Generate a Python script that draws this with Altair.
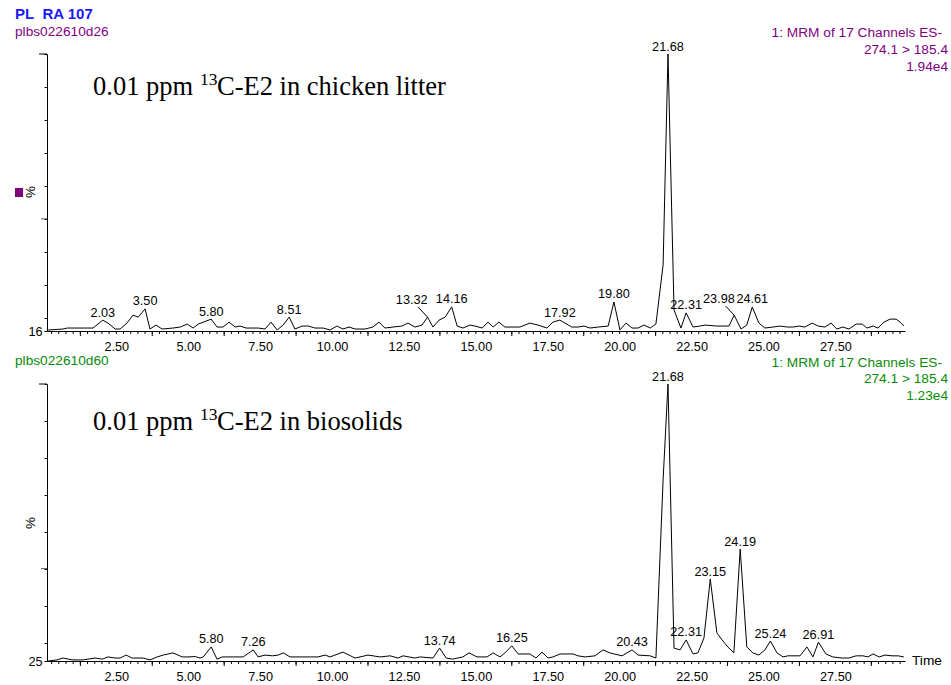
import altair as alt
import pandas as pd

SANS = "Liberation Sans"
SERIF = "Liberation Serif"
PURPLE = "#800080"
GREEN = "#0a8a0a"
BLUE = "#1a1aff"

# ---------------- data ----------------
top_time = [0.13, 0.65, 0.79, 1.35, 1.69, 2.03, 2.21, 2.46, 2.63, 2.87,
            3.08, 3.26, 3.50, 3.67, 3.88, 4.09, 4.47, 4.72, 4.96, 5.17,
            5.35, 5.80, 6.00, 6.21, 6.42, 6.63, 6.80, 7.01, 7.43, 7.67,
            7.88, 8.09, 8.30, 8.51, 8.71, 8.96, 9.17, 9.41, 9.69, 9.93,
            10.17, 10.38, 10.59, 10.80, 11.15, 11.42, 11.63, 11.84, 12.12, 12.43,
            12.64, 12.88, 13.13, 13.32, 13.51, 13.72, 13.93, 14.16, 14.35, 14.55,
            14.80, 14.97, 15.22, 15.42, 15.60, 15.80, 16.01, 16.29, 16.53, 16.88,
            17.16, 17.47, 17.68, 17.92, 18.10, 18.34, 18.55, 18.76, 18.97, 19.25,
            19.60, 19.80, 20.01, 20.22, 20.43, 20.64, 20.85, 21.06, 21.26, 21.51,
            21.68, 21.89, 22.13, 22.31, 22.55, 22.79, 22.97, 23.38, 23.80, 23.98,
            24.22, 24.42, 24.61, 24.84, 25.05, 25.33, 25.57, 25.82, 26.03, 26.24,
            26.44, 26.69, 26.90, 27.14, 27.35, 27.55, 27.76, 27.97, 28.22, 28.43,
            28.60, 28.81, 28.98, 29.19, 29.40, 29.61, 29.75, 29.88]
top_pct = [16.3, 16.6, 16.9, 16.9, 16.9, 19.3, 18.4, 16.6, 16.6, 18.4,
           20.8, 20.2, 22.7, 16.6, 17.8, 16.6, 16.9, 17.2, 18.1, 16.9,
           18.1, 19.6, 17.2, 17.2, 18.7, 17.2, 17.5, 16.9, 16.9, 16.6,
           18.7, 16.3, 17.8, 20.2, 16.6, 17.5, 17.5, 16.9, 16.9, 16.3,
           17.5, 16.6, 17.2, 16.6, 16.6, 17.2, 18.7, 16.9, 17.2, 17.5,
           18.4, 17.2, 17.8, 20.2, 17.2, 19.3, 20.2, 23.3, 17.5, 16.9,
           17.8, 17.5, 16.9, 18.7, 17.2, 18.7, 17.2, 17.2, 17.2, 18.4,
           17.8, 16.9, 18.7, 19.3, 18.4, 17.2, 17.2, 17.5, 16.9, 17.2,
           17.5, 24.8, 16.3, 18.4, 16.9, 16.9, 17.8, 16.9, 18.1, 36.0,
           100.0, 22.4, 16.9, 21.5, 17.2, 17.5, 17.8, 17.5, 17.5, 20.8,
           16.6, 17.8, 23.3, 18.4, 16.9, 17.2, 17.5, 17.2, 17.2, 17.5,
           17.2, 18.4, 17.5, 17.2, 18.4, 16.6, 17.2, 16.6, 18.1, 18.1,
           16.9, 17.5, 16.9, 18.7, 19.6, 19.6, 18.7, 17.5]

bot_time = [0.13, 0.44, 0.65, 0.96, 1.35, 1.76, 2.01, 2.21, 2.46, 2.63,
            2.84, 3.05, 3.43, 3.67, 3.92, 4.13, 4.47, 4.79, 4.99, 5.24,
            5.41, 5.52, 5.80, 6.00, 6.18, 6.56, 6.91, 7.26, 7.43, 7.67,
            7.92, 8.13, 8.30, 8.54, 8.89, 9.24, 9.51, 9.76, 9.93, 10.38,
            10.80, 11.25, 11.67, 12.02, 12.29, 12.47, 12.88, 13.06, 13.51, 13.74,
            13.97, 14.19, 14.55, 14.76, 15.04, 15.39, 15.60, 15.84, 16.01, 16.25,
            16.47, 16.88, 17.09, 17.30, 17.51, 17.68, 17.93, 18.38, 18.55, 18.80,
            19.14, 19.42, 19.66, 20.08, 20.43, 20.64, 21.06, 21.26, 21.51, 21.68,
            21.89, 22.10, 22.31, 22.55, 22.72, 22.93, 23.15, 23.38, 23.56, 23.76,
            23.97, 24.19, 24.42, 24.63, 24.84, 25.05, 25.24, 25.47, 25.68, 25.85,
            26.27, 26.51, 26.72, 26.91, 27.17, 27.41, 27.73, 27.97, 28.22, 28.46,
            28.63, 28.81, 29.02, 29.23, 29.47, 29.68, 29.88]
bot_pct = [25.0, 25.3, 25.8, 25.3, 25.3, 25.8, 25.5, 26.1, 25.8, 25.8,
           26.6, 25.8, 25.8, 25.3, 26.1, 26.6, 27.2, 26.1, 26.1, 26.2,
           25.8, 26.1, 28.8, 25.5, 26.1, 26.1, 26.1, 28.0, 26.1, 26.6,
           26.4, 26.6, 27.2, 26.1, 26.1, 26.1, 26.1, 26.6, 26.1, 27.4,
           25.8, 26.6, 26.1, 26.4, 25.8, 26.4, 25.8, 26.1, 25.8, 28.5,
           25.8, 25.5, 26.1, 27.2, 26.1, 26.1, 27.2, 26.1, 27.2, 29.1,
           26.9, 26.9, 25.8, 27.4, 25.8, 26.1, 26.9, 26.9, 26.4, 26.1,
           26.4, 28.0, 27.2, 26.4, 28.0, 26.6, 26.4, 25.8, 74.0, 100.0,
           28.5, 28.0, 30.7, 26.9, 27.2, 31.2, 47.2, 32.6, 30.7, 28.8,
           27.2, 55.3, 28.8, 27.2, 26.6, 28.0, 30.4, 27.2, 26.1, 26.4,
           26.4, 28.8, 26.1, 30.1, 26.9, 26.1, 25.8, 25.8, 26.4, 26.4,
           26.1, 26.9, 26.1, 26.6, 26.4, 26.4, 26.1]

top_label_text = ["2.03", "3.50", "5.80", "8.51", "13.32", "14.16", "17.92",
                  "19.80", "21.68", "22.31", "23.98", "24.61"]
top_label_time = [2.03, 3.50, 5.80, 8.51, 12.77, 14.16, 17.92, 19.80, 21.68, 22.31, 23.45, 24.61]
top_label_pct = [19.3, 22.7, 19.6, 20.2, 23.0, 23.3, 19.3, 24.8, 100.0, 21.5, 23.3, 23.3]

top_leader_t1 = [12.99, 23.68]
top_leader_p1 = [23.3, 23.6]
top_leader_t2 = [13.32, 23.98]
top_leader_p2 = [20.2, 20.8]

bot_label_text = ["5.80", "7.26", "13.74", "16.25", "20.43", "21.68", "22.31",
                  "23.15", "24.19", "25.24", "26.91"]
bot_label_time = [5.80, 7.26, 13.74, 16.25, 20.43, 21.68, 22.31, 23.15, 24.19, 25.24, 26.91]
bot_label_pct = [28.8, 28.0, 28.5, 29.1, 28.0, 100.0, 30.7, 47.2, 55.3, 30.4, 30.1]

x_label_values = [2.5, 5.0, 7.5, 10.0, 12.5, 15.0, 17.5, 20.0, 22.5, 25.0, 27.5]
x_minor_ticks = [round(0.25 * k, 2) for k in range(1, 120)]
x_long_ticks = [1.25 + 2.5 * k for k in range(12)]
X_MIN, X_MAX = 0.09, 29.92

W, H = 858, 277


def txt(s, x, y, size=13.7, color="black", font=SANS, align="left",
        baseline="alphabetic", weight="normal", angle=0):
    return alt.Chart(pd.DataFrame({"s": [s]})).mark_text(
        font=font, fontSize=size, color=color, align=align, baseline=baseline,
        fontWeight=weight, angle=angle
    ).encode(x=alt.value(x), y=alt.value(y), text="s:N")


def panel(times, pcts, ymin, lab_text, lab_time, lab_pct, extra_layers, leaders=None):
    xs = alt.Scale(domain=[X_MIN, X_MAX], nice=False, zero=False)
    ys = alt.Scale(domain=[ymin, 100], nice=False, zero=False)
    xaxis = alt.Axis(values=x_label_values, format=".2f", ticks=False, labelPadding=9,
                     grid=False, title=None, labelFlush=False, labelOverlap=False,
                     domainColor="black", domainWidth=1, labelColor="black",
                     labelFont=SANS, labelFontSize=12.7)
    yvals = [ymin] + list(range(int((ymin // 10 + 1) * 10), 101, 10))
    yaxis = alt.Axis(values=yvals, labelExpr=f"datum.value == {ymin} ? '{ymin}' : ''",
                     tickSize=3, tickColor="black", grid=False, title=None,
                     domainColor="black", domainWidth=1, labelColor="black",
                     labelFont=SANS, labelFontSize=12.7, labelPadding=2,
                     labelBaseline="middle", labelOverlap=False, labelFlush=False)
    X = alt.X("t:Q", scale=xs, axis=xaxis)
    Y = alt.Y("p:Q", scale=ys, axis=yaxis)

    df = pd.DataFrame({"t": times, "p": pcts})
    line = alt.Chart(df).mark_line(color="black", strokeWidth=1).encode(x=X, y=Y)

    minor = alt.Chart(pd.DataFrame({"t": x_minor_ticks})).mark_rule(
        color="black", strokeWidth=1).encode(x=X, y=alt.value(H), y2=alt.value(H + 3))
    longt = alt.Chart(pd.DataFrame({"t": x_long_ticks})).mark_rule(
        color="black", strokeWidth=1).encode(x=X, y=alt.value(H), y2=alt.value(H + 5))
    ytop = alt.Chart(pd.DataFrame({"p": [100]})).mark_rule(
        color="black", strokeWidth=1).encode(y=Y, x=alt.value(-8), x2=alt.value(0))
    ymid = alt.Chart(pd.DataFrame({"p": [50]})).mark_rule(
        color="#555555", strokeWidth=1).encode(y=Y, x=alt.value(-6), x2=alt.value(0))

    labels = alt.Chart(pd.DataFrame({"t": lab_time, "p": lab_pct, "s": lab_text})).mark_text(
        font=SANS, fontSize=12.7, color="black", align="center", baseline="alphabetic", dy=-3.5
    ).encode(x=X, y=Y, text="s:N")

    layers = [line, minor, longt, ytop, ymid, labels]
    if leaders is not None:
        ldf = pd.DataFrame({"t": leaders[0], "p": leaders[1], "t2": leaders[2], "p2": leaders[3]})
        layers.append(alt.Chart(ldf).mark_rule(color="black", strokeWidth=1).encode(
            x=X, y=Y, x2="t2:Q", y2="p2:Q"))
    layers += extra_layers
    return alt.layer(*layers).properties(width=W, height=H)


anchor = alt.Chart(pd.DataFrame({"a": [0]})).mark_rect(opacity=0).encode(
    x=alt.value(-47), x2=alt.value(-46), y=alt.value(-54), y2=alt.value(-53))

square = alt.Chart(pd.DataFrame({"a": [0]})).mark_rect(color=PURPLE).encode(
    x=alt.value(-32), x2=alt.value(-24), y=alt.value(134), y2=alt.value(143))

top_extra = [
    anchor,
    txt("PL\u00a0 RA 107", -32, -34.7, size=15, color=BLUE, weight="bold"),
    txt("plbs022610d26", -32, -18, color=PURPLE),
    txt("1: MRM of 17 Channels ES-", 895, -16.7, color=PURPLE, align="right"),
    txt("274.1 > 185.4", 901, 0, color=PURPLE, align="right"),
    txt("1.94e4", 901, 16.7, color=PURPLE, align="right"),
    txt("0.01 ppm", 46, 41, size=26.5, font=SERIF),
    txt("13", 153, 31, size=17.5, font=SERIF),
    txt("C-E2 in chicken litter", 170, 41, size=26.5, font=SERIF),
    txt("%", -16, 138, size=13.5, align="center", baseline="middle", angle=270),
    square,
]

bot_extra = [
    txt("plbs022610d60", -32, -19, color=GREEN),
    txt("1: MRM of 17 Channels ES-", 895, -17.4, color=GREEN, align="right"),
    txt("274.1 > 185.4", 901, -0.7, color=GREEN, align="right"),
    txt("1.23e4", 901, 16, color=GREEN, align="right"),
    txt("0.01 ppm", 46, 46, size=26.5, font=SERIF),
    txt("13", 153, 36, size=17.5, font=SERIF),
    txt("C-E2 in biosolids", 170, 46, size=26.5, font=SERIF),
    txt("%", -16, 139, size=13.5, align="center", baseline="middle", angle=270),
    txt("Time", 865, H, size=13.7, baseline="middle"),
]

top = panel(top_time, top_pct, 16, top_label_text, top_label_time, top_label_pct, top_extra,
            leaders=(top_leader_t1, top_leader_p1, top_leader_t2, top_leader_p2))
bottom = panel(bot_time, bot_pct, 25, bot_label_text, bot_label_time, bot_label_pct, bot_extra)

chart = alt.vconcat(top, bottom, spacing=53, bounds="flush").properties(
    padding=0, background="white"
).configure_view(stroke=None)

chart.save("out.html", embed_options={"renderer": "svg", "actions": False})
